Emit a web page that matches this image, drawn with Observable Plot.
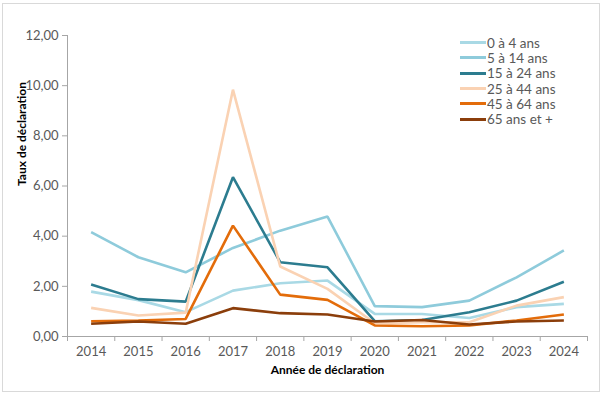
<!DOCTYPE html>
<html><head><meta charset="utf-8">
<script src="https://cdn.jsdelivr.net/npm/d3@7"></script>
<script src="https://cdn.jsdelivr.net/npm/@observablehq/plot@0.6"></script>
<style>
body{margin:0;background:#fff;font-family:Lato,"Open Sans",sans-serif;}
#wrap{position:relative;width:605px;height:396px;}
#frame{position:absolute;left:2px;top:3px;width:598px;height:389px;border:1px solid #d9d9d9;box-sizing:border-box;pointer-events:none;}
#legend{position:absolute;left:460px;top:35px;font-size:13.5px;color:#595959;}
#legend div{display:flex;align-items:center;height:15.3px;}
#legend span.sw{display:inline-block;width:26px;height:3px;margin-right:1px;}
</style></head>
<body><div id="wrap"><div id="chart"></div><div id="frame"></div><div id="legend"></div></div>
<script>
const years = [2014,2015,2016,2017,2018,2019,2020,2021,2022,2023,2024];
const seriesNames = ["0 à 4 ans","5 à 14 ans","15 à 24 ans","25 à 44 ans","45 à 64 ans","65 ans et +"];
const colors = ["#a9d9e5","#8ecbdb","#2c7c8f","#fad2b3","#e36c0a","#8b3e0b"];
const s0_4   = [1.79,1.45,0.97,1.83,2.12,2.23,0.90,0.90,0.74,1.17,1.30];
const s5_14  = [4.16,3.16,2.56,3.53,4.22,4.78,1.21,1.17,1.43,2.36,3.43];
const s15_24 = [2.07,1.49,1.39,6.35,2.96,2.76,0.61,0.66,0.97,1.43,2.18];
const s25_44 = [1.14,0.84,0.95,9.84,2.79,1.90,0.53,0.57,0.57,1.23,1.57];
const s45_64 = [0.61,0.64,0.70,4.42,1.67,1.46,0.44,0.41,0.44,0.64,0.88];
const s65    = [0.51,0.60,0.51,1.13,0.93,0.88,0.60,0.66,0.48,0.60,0.64];
const yTicks = [0,2,4,6,8,10,12];
const xLabel = "Année de déclaration";
const yLabel = "Taux de déclaration";

const allSeries = [s0_4,s5_14,s15_24,s25_44,s45_64,s65];
const data = [];
allSeries.forEach((arr,i)=>arr.forEach((v,j)=>data.push({year:years[j],value:v,series:seriesNames[i]})));
const bounds = d3.range(years[0]-0.5, years[years.length-1]+1, 1);
const fmt = d => d.toFixed(2).replace(".", ",");

const chart = Plot.plot({
  width:605, height:396,
  marginLeft:67, marginRight:18, marginTop:35, marginBottom:60,
  style:{fontFamily:"Lato, 'Open Sans', sans-serif", fontSize:"13px", color:"#595959", background:"transparent"},
  x:{type:"linear", domain:[years[0]-0.5, years[years.length-1]+0.5]},
  y:{domain:[0,12]},
  color:{domain:seriesNames, range:colors},
  marks:[
    Plot.ruleX([years[0]-0.5], {stroke:"#a6a6a6", strokeWidth:1}),
    Plot.axisY(yTicks, {tickSize:5, tickFormat:fmt, stroke:"#a6a6a6", fill:"#595959", tickPadding:4, label:null, fontSize:13}),
    Plot.axisX(bounds, {tickSize:5, tickFormat:()=>"", stroke:"#a6a6a6", label:null}),
    Plot.axisX(years, {tickSize:0, tickFormat:d=>String(d), fill:"#595959", tickPadding:10, label:null, fontSize:13}),
    Plot.ruleY([0], {stroke:"#a6a6a6", strokeWidth:1.2}),
    Plot.line(data, {x:"year", y:"value", z:"series", stroke:"series", strokeWidth:2.6, strokeLinejoin:"miter", strokeLinecap:"butt"}),
    Plot.text([xLabel], {frameAnchor:"bottom", dy:37, fontWeight:"bold", fill:"#000", fontSize:12}),
    Plot.text([yLabel], {frameAnchor:"left", rotate:-90, dx:-45, fontWeight:"bold", fill:"#000", fontSize:12})
  ]
});
document.getElementById("chart").append(chart);

const leg = document.getElementById("legend");
seriesNames.forEach((n,i)=>{
  const row = document.createElement("div");
  const sw = document.createElement("span"); sw.className="sw"; sw.style.background=colors[i];
  row.append(sw, document.createTextNode(n));
  leg.append(row);
});
</script></body></html>
